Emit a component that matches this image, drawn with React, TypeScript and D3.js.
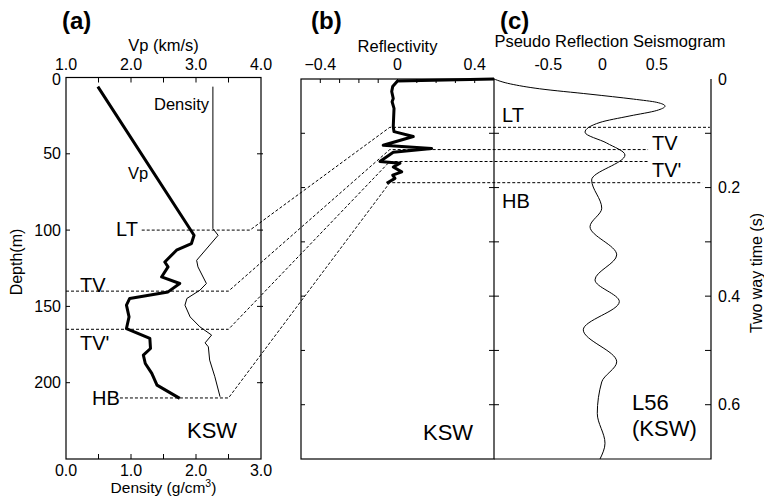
import React from "react";
import * as d3 from "d3";

// ---- Panel (a): velocity / density log versus depth ----
const vpDepth = [6, 103.4, 108.8, 113.2, 120.9, 124.1, 130.7, 135, 140.5, 144.8, 149.2, 156.9, 164.5, 171, 177.6, 181.9, 187.4, 193.9, 201.6, 210.3];
const vpValue = [1.49, 2.97, 2.93, 2.7, 2.52, 2.57, 2.47, 2.75, 2.57, 1.98, 1.93, 1.97, 1.93, 2.29, 2.3, 2.19, 2.22, 2.32, 2.4, 2.75];

const densityDepth = [6, 99, 103.4, 119.8, 124.1, 135, 139.4, 144.8, 149.2, 156.9, 163.4, 168.8, 173.9, 176.5, 185.2, 196.1, 209.2];
const densityValue = [2.26, 2.26, 2.34, 2.01, 2.03, 2.16, 2.06, 1.86, 1.83, 1.91, 2.06, 2.24, 2.14, 2.19, 2.21, 2.29, 2.37];

// ---- Panel (b): reflectivity series versus two-way time ----
const reflTime = [0, 0.0037, 0.014, 0.023, 0.036, 0.042, 0.054, 0.088, 0.097, 0.106, 0.122, 0.128, 0.135, 0.152, 0.155, 0.162, 0.171, 0.177, 0.183, 0.192];
const reflValue = [0.5, 0, -0.025, -0.03, -0.022, -0.028, -0.018, -0.022, -0.018, 0.082, -0.074, 0.177, -0.022, -0.091, 0.013, -0.022, 0.022, -0.025, -0.013, -0.056];

// ---- Panel (c): pseudo reflection seismogram ----
const seisTime = [0, 0.009, 0.018, 0.028, 0.037, 0.043, 0.05, 0.058, 0.068, 0.08, 0.098, 0.118, 0.14, 0.186, 0.238, 0.272, 0.324, 0.37, 0.41, 0.462, 0.521, 0.558, 0.616, 0.671, 0.7];
const seisValue = [-1, -0.85, -0.58, -0.115, 0.284, 0.5, 0.576, 0.5, 0.253, -0.023, -0.161, 0.039, 0.207, -0.1, -0.007, -0.115, 0.131, -0.069, 0.155, -0.177, 0.131, -0.007, -0.048, 0.023, -0.023];

// ---- Horizons tying depth to time ----
const horizonNames = ["LT", "TV", "TV'", "HB"];
const horizonDepth = [100, 140, 165, 210];
const horizonTime = [0.089, 0.13, 0.152, 0.191];

// ---- Tick labels ----
const vpTicks = [1, 2, 3, 4];
const densityTicks = [0, 1, 2, 3];
const depthTicks = [0, 50, 100, 150, 200];
const reflTicks = [-0.4, 0, 0.4];
const seisTicks = [-0.5, 0, 0.5];
const timeTicks = [0, 0.2, 0.4, 0.6];

// Guide line extents (in each panel's own units)
const guideStartDensity = [1.165, 0, 0, 0.83];
const guideEndDensity = [2.83, 2.5, 2.5, 2.5];
const guideStartRefl = -0.04;
const guideEndSeis = [0.99, 0.42, 0.42, 0.92];

const FONT = "'Liberation Sans', Arial, Helvetica, sans-serif";

export default function App() {
  const yDepth = d3.scaleLinear().domain([0, 250]).range([77.5, 459]);
  const xVp = d3.scaleLinear().domain([1, 4]).range([66, 261]);
  const xDen = d3.scaleLinear().domain([0, 3]).range([66, 261]);
  const yTime = d3.scaleLinear().domain([0, 0.7]).range([79, 459]);
  const xRefl = d3.scaleLinear().domain([-0.5, 0.5]).range([301, 494]);
  const xSeis = d3.scaleLinear().domain([-1, 1]).range([494, 711]);

  const vpLine = d3.line<number>()
    .x((_, i) => xVp(vpValue[i]))
    .y((d) => yDepth(d));
  const denLine = d3.line<number>()
    .x((_, i) => xDen(densityValue[i]))
    .y((d) => yDepth(d));
  const reflLine = d3.line<number>()
    .x((_, i) => xRefl(reflValue[i]))
    .y((d) => yTime(d));
  const seisLine = d3.line<number>()
    .x((_, i) => xSeis(seisValue[i]))
    .y((d) => yTime(d))
    .curve(d3.curveMonotoneY);

  const aTop = yDepth(0);
  const aBot = yDepth(250);
  const aL = xDen(0);
  const aR = xDen(3);
  const bTop = yTime(0);
  const bBot = yTime(0.7);
  const bL = xRefl(-0.5);
  const bR = xRefl(0.5);
  const cR = xSeis(1);

  const axisStroke = { stroke: "#000", strokeWidth: 1.2, fill: "none" } as const;
  const tickStroke = { stroke: "#000", strokeWidth: 1 } as const;

  const vpMinor = d3.range(1.5, 3.51, 0.5);
  const denMinor = d3.range(0.5, 2.51, 0.5);
  const depthMinor = [50, 100, 150, 200];
  const reflMinor = d3.range(-0.4, 0.41, 0.1);
  const timeMinor = d3.range(0.1, 0.61, 0.1);

  const guidePaths = horizonNames.map((_, i) => {
    const yd = yDepth(horizonDepth[i]);
    const yt = yTime(horizonTime[i]);
    return d3.line()([
      [xDen(guideStartDensity[i]), yd],
      [xDen(guideEndDensity[i]), yd],
      [xRefl(guideStartRefl), yt],
      [xSeis(guideEndSeis[i]), yt],
    ]);
  });

  const fmt1 = d3.format(".1f");
  const fmtRefl = (v: number) => (Math.abs(v) < 1e-9 ? "0" : d3.format(".1f")(v));

  return (
    <svg
      width={764}
      height={500}
      style={{ position: "absolute", left: 0, top: 0, background: "#fff" }}
      fontFamily={FONT}
    >
      <rect x={0} y={0} width={764} height={500} fill="#fff" />

      {/* panel letters */}
      <text x={62} y={29} fontSize={24} fontWeight="bold">(a)</text>
      <text x={311} y={29} fontSize={24} fontWeight="bold">(b)</text>
      <text x={500} y={29} fontSize={24} fontWeight="bold">(c)</text>

      {/* ---------- Panel (a) ---------- */}
      <rect x={aL} y={aTop} width={aR - aL} height={aBot - aTop} {...axisStroke} />
      <text x={(aL + aR) / 2} y={51} fontSize={16.5} textAnchor="middle">Vp (km/s)</text>
      {vpTicks.map((t) => (
        <text key={"vp" + t} x={xVp(t)} y={70} fontSize={16} textAnchor="middle">{fmt1(t)}</text>
      ))}
      {vpMinor.map((t) => (
        <line key={"vpm" + t} x1={xVp(t)} x2={xVp(t)} y1={aTop} y2={aTop + 5} {...tickStroke} />
      ))}
      {densityTicks.map((t) => (
        <text key={"dn" + t} x={xDen(t)} y={476} fontSize={16} textAnchor="middle">{fmt1(t)}</text>
      ))}
      {denMinor.map((t) => (
        <line key={"dnm" + t} x1={xDen(t)} x2={xDen(t)} y1={aBot} y2={aBot - 5} {...tickStroke} />
      ))}
      <text x={(aL + aR) / 2} y={493} fontSize={15.5} textAnchor="middle">
        Density (g/cm<tspan fontSize={10.5} dy={-6}>3</tspan><tspan dy={6}>)</tspan>
      </text>
      {depthTicks.map((t) => (
        <text key={"dp" + t} x={61} y={yDepth(t) + (t === 0 ? 2 : 0)} fontSize={16} textAnchor="end" dominantBaseline="central">{t}</text>
      ))}
      {depthMinor.map((t) => (
        <g key={"dpm" + t}>
          <line x1={aL} x2={aL + 4} y1={yDepth(t)} y2={yDepth(t)} {...tickStroke} />
          <line x1={aR - 4} x2={aR + 2} y1={yDepth(t)} y2={yDepth(t)} {...tickStroke} />
        </g>
      ))}
      <text transform={`translate(22,262) rotate(-90)`} fontSize={16} textAnchor="middle">Depth(m)</text>

      <path d={denLine(densityDepth) || ""} fill="none" stroke="#000" strokeWidth={1} />
      <path d={vpLine(vpDepth) || ""} fill="none" stroke="#000" strokeWidth={3} strokeLinejoin="round" />

      <text x={154} y={110} fontSize={16.5}>Density</text>
      <text x={128} y={179} fontSize={16.5}>Vp</text>
      <text x={116} y={236} fontSize={20}>LT</text>
      <text x={80} y={292} fontSize={20}>TV</text>
      <text x={80} y={350} fontSize={20}>TV'</text>
      <text x={92} y={405} fontSize={20}>HB</text>
      <text x={187} y={438} fontSize={22}>KSW</text>

      {/* ---------- Panel (b) ---------- */}
      <rect x={bL} y={bTop} width={bR - bL} height={bBot - bTop} {...axisStroke} />
      <text x={xRefl(0)} y={52} fontSize={16.5} textAnchor="middle">Reflectivity</text>
      {reflTicks.map((t) => (
        <text key={"rf" + t} x={xRefl(t)} y={70} fontSize={16} textAnchor="middle">{fmtRefl(t)}</text>
      ))}
      {reflMinor.map((t, i) => (
        <line key={"rfm" + i} x1={xRefl(t)} x2={xRefl(t)} y1={bTop} y2={bTop + 4} {...tickStroke} />
      ))}
      {timeMinor.map((t, i) => (
        <g key={"tmb" + i}>
          <line x1={bL} x2={bL + 4} y1={yTime(t)} y2={yTime(t)} {...tickStroke} />
          <line x1={bR - 5} x2={bR + 5} y1={yTime(t)} y2={yTime(t)} {...tickStroke} />
        </g>
      ))}
      <text x={423} y={440} fontSize={22}>KSW</text>

      {/* ---------- Panel (c) ---------- */}
      <path d={`M${bR},${bBot}H${cR}V${bTop}`} {...axisStroke} />
      <text x={610} y={47} fontSize={16.5} textAnchor="middle">Pseudo Reflection Seismogram</text>
      {seisTicks.map((t) => (
        <text key={"ss" + t} x={xSeis(t)} y={70} fontSize={16} textAnchor="middle">{t === 0 ? "0" : String(t)}</text>
      ))}
      {timeMinor.map((t, i) => (
        <line key={"tmc" + i} x1={cR - 6} x2={cR} y1={yTime(t)} y2={yTime(t)} {...tickStroke} />
      ))}
      {timeTicks.map((t) => (
        <text key={"tt" + t} x={718} y={yTime(t)} fontSize={16} dominantBaseline="central">{t === 0 ? "0" : fmt1(t)}</text>
      ))}
      <text transform={`translate(762,273) rotate(-90)`} fontSize={16} textAnchor="middle">Two way time (s)</text>

      <path d={seisLine(seisTime) || ""} fill="none" stroke="#000" strokeWidth={1} />

      <text x={502} y={122} fontSize={20}>LT</text>
      <text x={652} y={150} fontSize={20}>TV</text>
      <text x={652} y={177} fontSize={20}>TV'</text>
      <text x={502} y={208} fontSize={20}>HB</text>
      <text x={632} y={410} fontSize={22}>L56</text>
      <text x={632} y={436} fontSize={22}>(KSW)</text>

      {/* horizon guides */}
      {guidePaths.map((d, i) => (
        <path key={"g" + i} d={d || ""} fill="none" stroke="#000" strokeWidth={1} strokeDasharray="3,2" />
      ))}

      <path d={reflLine(reflTime) || ""} fill="none" stroke="#000" strokeWidth={3} strokeLinejoin="round" />
    </svg>
  );
}
